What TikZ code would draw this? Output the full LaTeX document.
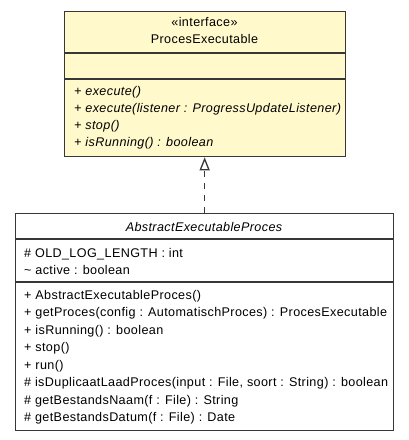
\documentclass[tikz,border=0pt]{standalone}
\usepackage{fontspec}
\setmainfont{Liberation Sans}[LetterSpace=3]
\usetikzlibrary{arrows.meta, positioning}
\definecolor{ifacefill}{RGB}{255,249,204}
\definecolor{umlline}{RGB}{55,55,55}

\begin{document}
\begin{tikzpicture}[
    x=1pt, y=-1pt,
    classbox/.style={rectangle, draw=umlline, line width=1.3pt, anchor=north west, inner sep=0pt, fill=#1},
    divider/.style={draw=umlline, line width=1.3pt},
    member/.style={anchor=base west, inner sep=0pt, font=\fontsize{12.6}{15}\selectfont},
    title/.style={anchor=base, inner sep=0pt, font=\fontsize{12.6}{15}\selectfont}
]
\useasboundingbox (0,0) rectangle (409,440);
% interface ProcesExecutable
\node[classbox=ifacefill, minimum width=281pt, minimum height=145pt] (iface) at (64,11) {};
\draw[divider] ([yshift=-42pt]iface.north west) -- ([yshift=-42pt]iface.north east);
\draw[divider] ([yshift=-68pt]iface.north west) -- ([yshift=-68pt]iface.north east);
\node[title] (ifacestereo) at (204.5,26.5) {«interface»};
\node[title] (ifacename) at (204.5,43) {ProcesExecutable};
\node[member] (iop1) at (74,95) {\itshape + execute()};
\node[member] (iop2) at (74,112) {\itshape + execute(listener : ProgressUpdateListener)};
\node[member] (iop3) at (74,129) {\itshape + stop()};
\node[member] (iop4) at (74,146) {\itshape + isRunning() : boolean};
% abstract class AbstractExecutableProces
\node[classbox=white, minimum width=378pt, minimum height=217pt] (abstract) at (15,213) {};
\draw[divider] ([yshift=-26pt]abstract.north west) -- ([yshift=-26pt]abstract.north east);
\draw[divider] ([yshift=-69pt]abstract.north west) -- ([yshift=-69pt]abstract.north east);
\node[title] (abstractname) at (204,231) {\itshape AbstractExecutableProces};
\node[member] (aat1) at (24,257) {\# OLD\_LOG\_LENGTH : int};
\node[member] (aat2) at (24,274.5) {\textasciitilde{} active : boolean};
\node[member] (aop1) at (24,299) {+ AbstractExecutableProces()};
\node[member] (aop2) at (24,316.5) {+ getProces(config : AutomatischProces) : ProcesExecutable};
\node[member] (aop3) at (24,334) {+ isRunning() : boolean};
\node[member] (aop4) at (24,351.5) {+ stop()};
\node[member] (aop5) at (24,369) {+ run()};
\node[member] (aop6) at (24,386.5) {\# isDuplicaatLaadProces(input : File, soort : String) : boolean};
\node[member] (aop7) at (24,404) {\# getBestandsNaam(f : File) : String};
\node[member] (aop8) at (24,421.5) {\# getBestandsDatum(f : File) : Date};
% realization
\draw[umlline, line width=1.3pt, dash pattern=on 6pt off 6pt, -{Triangle[open, length=13pt, width=10pt]}] (abstract.north) -- (abstract.north |- iface.south);
\end{tikzpicture}
\end{document}
